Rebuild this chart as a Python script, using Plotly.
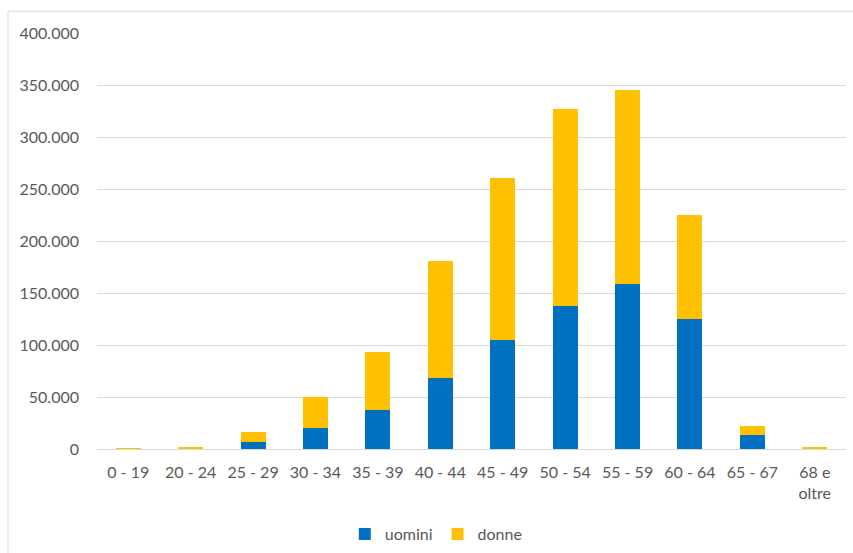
import plotly.graph_objects as go

categories = ["0 - 19", "20 - 24", "25 - 29", "30 - 34", "35 - 39", "40 - 44",
              "45 - 49", "50 - 54", "55 - 59", "60 - 64", "65 - 67", "68 e<br>oltre"]
uomini = [100, 300, 6400, 20500, 37500, 68300, 104800, 137500, 159000, 124600, 13700, 300]
donne_total = [250, 1200, 16300, 50000, 93300, 180800, 260600, 327200, 344800, 225300, 22400, 1100]
donne = [t - u for t, u in zip(donne_total, uomini)]
y_ticks = [0, 50000, 100000, 150000, 200000, 250000, 300000, 350000, 400000]

FONT = "Lato"
GRAY = "#595959"

fig = go.Figure()
fig.add_trace(go.Bar(x=categories, y=uomini, name="uomini",
                     marker=dict(color="#0070C0", line=dict(width=0))))
fig.add_trace(go.Bar(x=categories, y=donne, name="donne",
                     marker=dict(color="#FFC000", line=dict(width=0))))

fig.update_layout(
    barmode="stack",
    bargap=0.6,
    width=853, height=553,
    margin=dict(l=97, r=7, t=33, b=104, autoexpand=False),
    paper_bgcolor="white", plot_bgcolor="white",
    separators=",.",
    font=dict(family=FONT, size=16, color=GRAY),
    showlegend=True,
    legend=dict(orientation="h", x=0.453, xanchor="center",
                yref="container", y=1 - 534 / 553, yanchor="middle",
                font=dict(family=FONT, size=16, color=GRAY), traceorder="normal",
                itemwidth=30),
    xaxis=dict(showgrid=False, showline=False, ticks="", automargin=False,
               tickfont=dict(size=16, color=GRAY), ticklabelstandoff=12),
    yaxis=dict(range=[0, 400000], tickvals=y_ticks, tickformat=",d", automargin=False,
               showgrid=True, gridcolor="#D9D9D9", gridwidth=1,
               zeroline=True, zerolinecolor="#D9D9D9", zerolinewidth=1,
               showline=False, ticks="", tickfont=dict(size=16, color=GRAY),
               ticklabelstandoff=17),
    shapes=[dict(type="rect", xref="paper", yref="paper",
                 x0=-0.1188, x1=1.03, y0=-0.3, y1=1.0524,
                 line=dict(color="#D9D9D9", width=1), fillcolor="rgba(0,0,0,0)")],
)

post = (
    "document.documentElement.style.margin='0';"
    "document.body.style.margin='0';"
    "document.body.style.overflow='hidden';"
)

fig.write_html("out.html", post_script=post, config={"displayModeBar": False})
